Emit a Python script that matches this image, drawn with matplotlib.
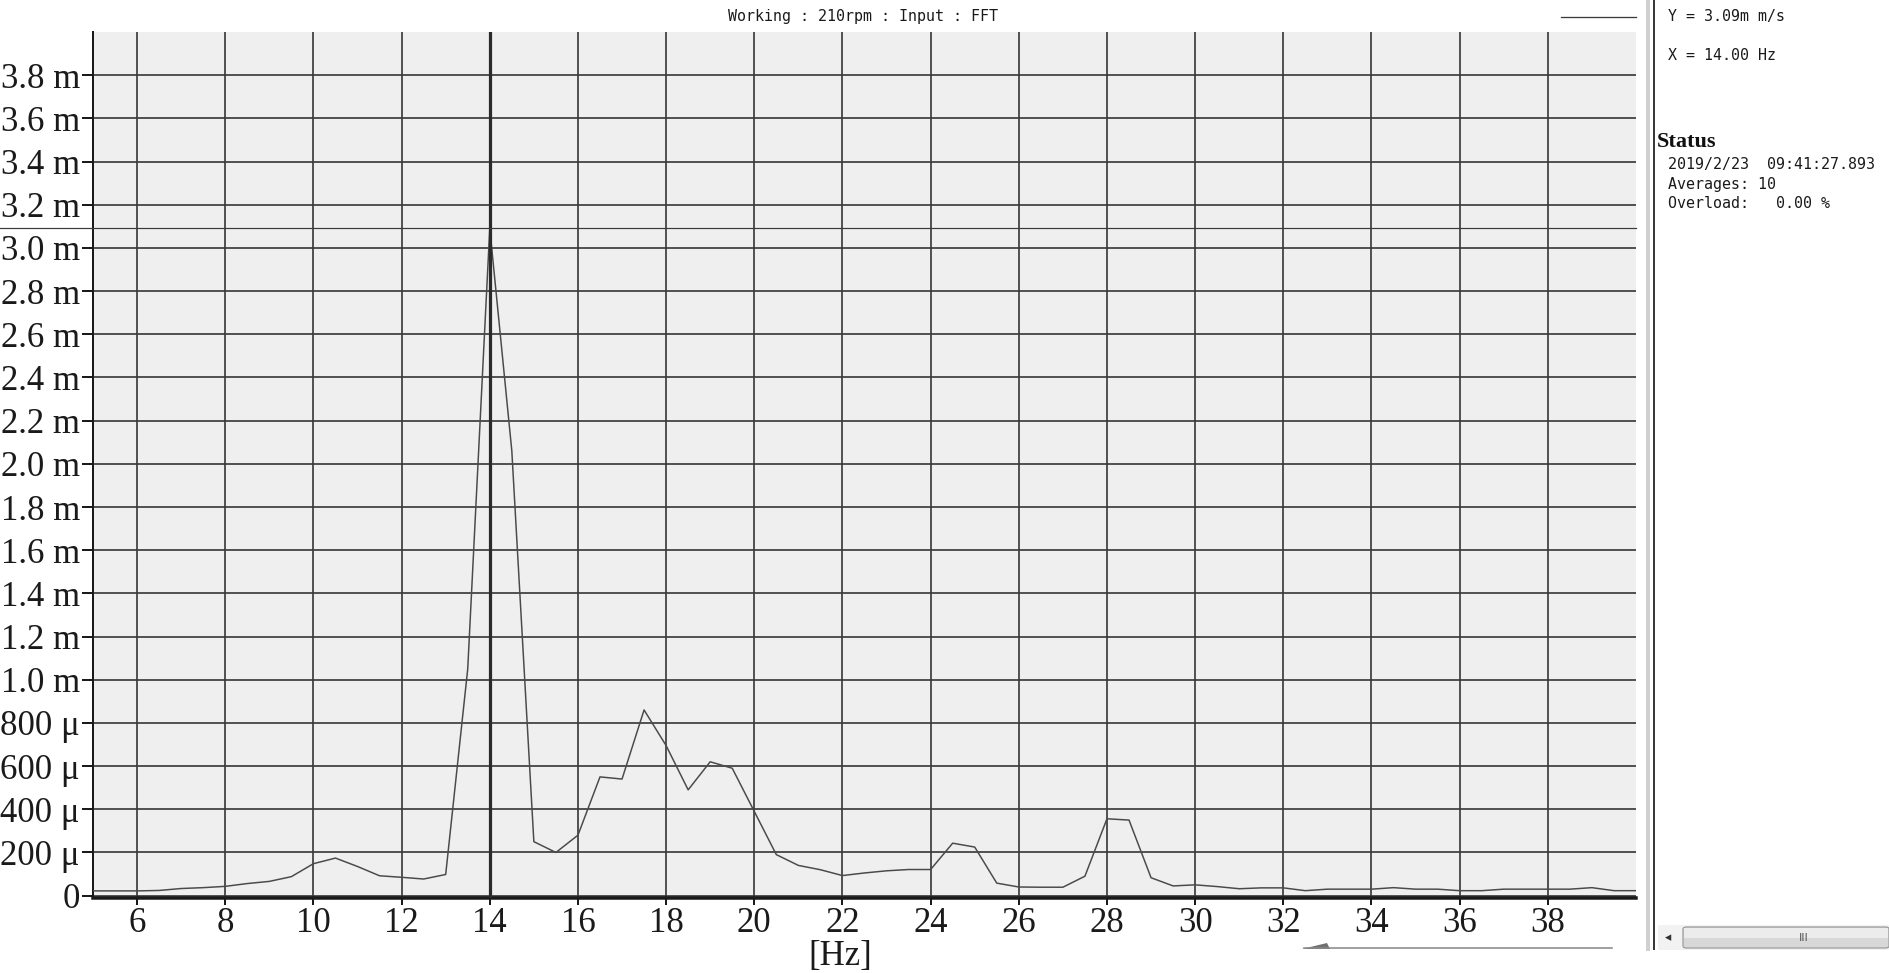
import matplotlib
matplotlib.use("Agg")
import matplotlib.pyplot as plt
import matplotlib.transforms as mtransforms
from matplotlib.lines import Line2D
from matplotlib.patches import Rectangle, Polygon, FancyBboxPatch

# ---------------- data ----------------
freq_hz = [5.0, 5.5, 6.0, 6.5, 7.0, 7.5, 8.0, 8.5, 9.0, 9.5,
           10.0, 10.5, 11.0, 11.5, 12.0, 12.5, 13.0, 13.5, 14.0, 14.5,
           15.0, 15.5, 16.0, 16.5, 17.0, 17.5, 18.0, 18.5, 19.0, 19.5,
           20.0, 20.5, 21.0, 21.5, 22.0, 22.5, 23.0, 23.5, 24.0, 24.5,
           25.0, 25.5, 26.0, 26.5, 27.0, 27.5, 28.0, 28.5, 29.0, 29.5,
           30.0, 30.5, 31.0, 31.5, 32.0, 32.5, 33.0, 33.5, 34.0, 34.5,
           35.0, 35.5, 36.0, 36.5, 37.0, 37.5, 38.0, 38.5, 39.0, 39.5, 40.0]
# amplitude in mm/s (axis labelled in m / μ units)
amp_mm = [0.022, 0.022, 0.022, 0.024, 0.033, 0.037, 0.043, 0.056, 0.066, 0.088,
          0.148, 0.174, 0.135, 0.092, 0.085, 0.077, 0.098, 1.05, 3.09, 2.06,
          0.25, 0.20, 0.28, 0.55, 0.54, 0.86, 0.695, 0.49, 0.62, 0.59,
          0.39, 0.19, 0.14, 0.12, 0.093, 0.105, 0.115, 0.121, 0.121, 0.243,
          0.225, 0.058, 0.040, 0.039, 0.039, 0.090, 0.356, 0.350, 0.083, 0.045,
          0.050, 0.042, 0.032, 0.036, 0.036, 0.023, 0.030, 0.030, 0.030, 0.037,
          0.030, 0.030, 0.023, 0.023, 0.030, 0.030, 0.030, 0.030, 0.037, 0.023, 0.023]

x_ticks = [6, 8, 10, 12, 14, 16, 18, 20, 22, 24, 26, 28, 30, 32, 34, 36, 38]
y_ticks = [0.0, 0.2, 0.4, 0.6, 0.8, 1.0, 1.2, 1.4, 1.6, 1.8, 2.0, 2.2, 2.4, 2.6,
           2.8, 3.0, 3.2, 3.4, 3.6, 3.8]
y_ticklabels = ["0", "200 μ", "400 μ", "600 μ", "800 μ", "1.0 m", "1.2 m", "1.4 m",
                "1.6 m", "1.8 m", "2.0 m", "2.2 m", "2.4 m", "2.6 m", "2.8 m",
                "3.0 m", "3.2 m", "3.4 m", "3.6 m", "3.8 m"]

cursor_x_hz = 14.0
cursor_y_mm = 3.09

title_text = "Working : 210rpm : Input : FFT"
cursor_lines = ["Y = 3.09m m/s", "X = 14.00 Hz"]
status_title = "Status"
status_lines = ["2019/2/23  09:41:27.893", "Averages: 10", "Overload:   0.00 %"]

# ---------------- figure ----------------
W, H = 1890, 973
fig = plt.figure(figsize=(W / 100, H / 100), dpi=100, facecolor="white")


def fx(px):
    return px / W


def fy(py):
    return 1 - py / H


PT = 0.72  # points per pixel at dpi 100

ax_left, ax_right, ax_top, ax_bottom = 93, 1636, 32, 897.8
ax = fig.add_axes([fx(ax_left), fy(ax_bottom), (ax_right - ax_left) / W,
                   (ax_bottom - ax_top) / H])
ax.set_facecolor("#efefef")
ax.set_xlim(5, 40)
ax.set_ylim(-0.01, 4.0)

serif = "Liberation Serif"
mono = "DejaVu Sans Mono"

ax.set_xticks(x_ticks)
ax.set_xticklabels([str(t) for t in x_ticks], fontfamily=serif, fontsize=25)
ax.set_yticks(y_ticks)
ax.set_yticklabels(y_ticklabels, fontfamily=serif, fontsize=25)

ax.tick_params(axis="y", direction="out", length=11 * PT, width=2 * PT,
               pad=2 * PT, colors="#1a1a1a")
ax.tick_params(axis="x", direction="out", length=7 * PT, width=2 * PT,
               pad=2 * PT, colors="#1a1a1a")

ax.grid(True, color="#3a3a3a", linewidth=1.7 * PT)
ax.set_axisbelow(True)

for side in ("top", "right"):
    ax.spines[side].set_visible(False)
ax.spines["left"].set_linewidth(2 * PT)
ax.spines["left"].set_color("#1a1a1a")
ax.spines["bottom"].set_linewidth(3.5 * PT)
ax.spines["bottom"].set_color("#1a1a1a")

# spectrum curve
ax.plot(freq_hz, amp_mm, color="#4a4a4a", linewidth=1.5 * PT, zorder=3)

# cursor lines
ax.axvline(cursor_x_hz, color="#2a2a2a", linewidth=3.2 * PT, zorder=4)
blend = mtransforms.blended_transform_factory(fig.transFigure, ax.transData)
fig.add_artist(Line2D([0, fx(ax_right)], [cursor_y_mm, cursor_y_mm],
                      transform=blend, color="#3a3a3a", linewidth=1.2 * PT,
                      zorder=4))

# x axis unit label
fig.text(fx(840), fy(957), "[Hz]", fontfamily=serif, fontsize=25,
         ha="center", va="center", color="#1a1a1a")

# title
fig.text(fx(863), fy(16), title_text, fontfamily=mono, fontsize=10.8,
         ha="center", va="center", color="#1a1a1a")

# legend line top-right of plot
fig.add_artist(Line2D([fx(1561), fx(1636)], [fy(17), fy(17)],
                      transform=fig.transFigure, color="#3a3a3a",
                      linewidth=1.3 * PT))

# separator between plot and side panel
fig.add_artist(Line2D([fx(1648), fx(1648)], [fy(0), fy(949)],
                      transform=fig.transFigure, color="#d0d0d0",
                      linewidth=4 * PT))
fig.add_artist(Line2D([fx(1654), fx(1654)], [fy(0), fy(949)],
                      transform=fig.transFigure, color="#3a3a3a",
                      linewidth=2 * PT))

# side panel text
for txt, py in zip(cursor_lines, [17, 55]):
    fig.text(fx(1668), fy(py), txt, fontfamily=mono, fontsize=10.8,
             ha="left", va="center", color="#1a1a1a")
fig.text(fx(1657), fy(142), status_title, fontfamily=serif, fontweight="bold",
         fontsize=16, ha="left", va="center", color="#111111")
for txt, py in zip(status_lines, [164, 184, 203]):
    fig.text(fx(1668), fy(py), txt, fontfamily=mono, fontsize=10.8,
             ha="left", va="center", color="#1a1a1a")

# scroll bar (side panel)
fig.add_artist(Rectangle((fx(1658), fy(950)), fx(1890 - 1658), (950 - 925) / H,
                         transform=fig.transFigure, facecolor="#f2f2f2",
                         edgecolor="none"))
fig.add_artist(FancyBboxPatch((fx(1683), fy(948)), fx(1889 - 1683), (948 - 927) / H,
                              boxstyle="round,pad=0,rounding_size=0.002",
                              transform=fig.transFigure, facecolor="#d8d8d8",
                              edgecolor="#9a9a9a", linewidth=1.2 * PT))
fig.add_artist(Rectangle((fx(1684), fy(938)), fx(1888 - 1684), (938 - 928) / H,
                         transform=fig.transFigure, facecolor="#ececec",
                         edgecolor="none"))
fig.text(fx(1668), fy(938), "◂", fontfamily="DejaVu Sans", fontsize=9,
         ha="center", va="center", color="#333333")
fig.text(fx(1804), fy(938), "III", fontfamily="DejaVu Sans", fontsize=8,
         ha="center", va="center", color="#555555")

# lower horizontal bar fragment
fig.add_artist(Line2D([fx(1304), fx(1612)], [fy(948), fy(948)],
                      transform=fig.transFigure, color="#8a8a8a",
                      linewidth=1.6 * PT))
fig.add_artist(Polygon([(fx(1302), fy(949)), (fx(1330), fy(949)),
                        (fx(1327), fy(943))], closed=True,
                       transform=fig.transFigure, facecolor="#707070",
                       edgecolor="none"))

fig.savefig("out.png", dpi=100, facecolor="white")
